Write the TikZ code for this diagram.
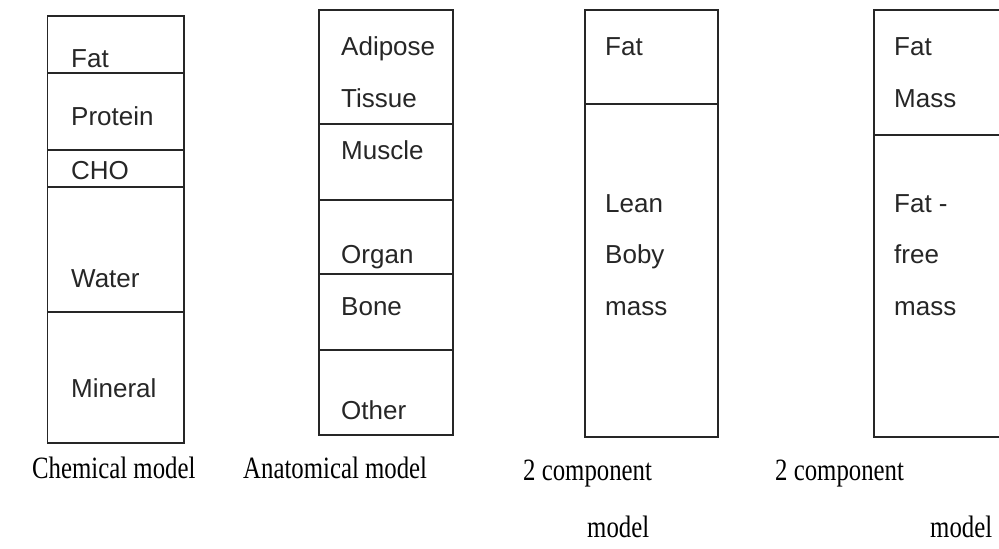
\documentclass[tikz,border=0pt]{standalone}
\usepackage{fontspec}
\setmainfont{Liberation Serif}
\setsansfont{Liberation Sans}
\begin{document}
\begin{tikzpicture}[x=1pt,y=-1pt,
  boxline/.style={line width=1.6pt,black!85},
  divline/.style={line width=1.3pt,black!85},
  lbl/.style={anchor=base west,inner sep=0pt,font=\sffamily\fontsize{26}{30}\selectfont,text=black!85},
  captxt/.style={anchor=base west,inner sep=0pt,font=\rmfamily\fontsize{24.8}{28}\selectfont}]
\useasboundingbox (0,0) rectangle (999,549);
\clip (0,0) rectangle (999,549);
% Chemical model
\draw[boxline] (47.5,16) rectangle (184,443);
\foreach \yy in {73,150,187,312} \draw[divline] (47.5,\yy) -- (184,\yy);
\node[lbl] (c1) at (71,67) {Fat};
\node[lbl] (c2) at (71,125) {Protein};
\node[lbl] (c3) at (71,179) {CHO};
\node[lbl] (c4) at (71,287) {Water};
\node[lbl] (c5) at (71,397) {Mineral};
% Anatomical model
\draw[boxline] (319,10) rectangle (453,435);
\foreach \yy in {124,200,274,350} \draw[divline] (319,\yy) -- (453,\yy);
\node[lbl] (a1) at (341,55) {Adipose};
\node[lbl] (a2) at (341,107) {Tissue};
\node[lbl] (a3) at (341,159) {Muscle};
\node[lbl] (a4) at (341,263) {Organ};
\node[lbl] (a5) at (341,315) {Bone};
\node[lbl] (a6) at (341,419) {Other};
% 2 component (lean)
\draw[boxline] (585,10) rectangle (718,437);
\draw[divline] (585,104) -- (718,104);
\node[lbl] (l1) at (605,55) {Fat};
\node[lbl] (l2) at (605,212) {Lean};
\node[lbl] (l3) at (605,263) {Boby};
\node[lbl] (l4) at (605,315) {mass};
% 2 component (fat-free)
\draw[boxline] (874,10) rectangle (1010,437);
\draw[divline] (874,135) -- (1010,135);
\node[lbl] (f1) at (894,55) {Fat};
\node[lbl] (f2) at (894,107) {Mass};
\node[lbl] (f3) at (894,212) {Fat -};
\node[lbl] (f4) at (894,263) {free};
\node[lbl] (f5) at (894,315) {mass};
% captions
\node[captxt] (t1) at (32,478) {\scalebox{1}[1.25]{Chemical model}};
\node[captxt] (t2) at (243,478) {\scalebox{1}[1.25]{Anatomical model}};
\node[captxt] (t3) at (523,480) {\scalebox{1}[1.25]{2 component}};
\node[captxt] (t4) at (587,537) {\scalebox{1}[1.25]{model}};
\node[captxt] (t5) at (775,480) {\scalebox{1}[1.25]{2 component}};
\node[captxt] (t6) at (930,537) {\scalebox{1}[1.25]{model}};
\end{tikzpicture}
\end{document}
